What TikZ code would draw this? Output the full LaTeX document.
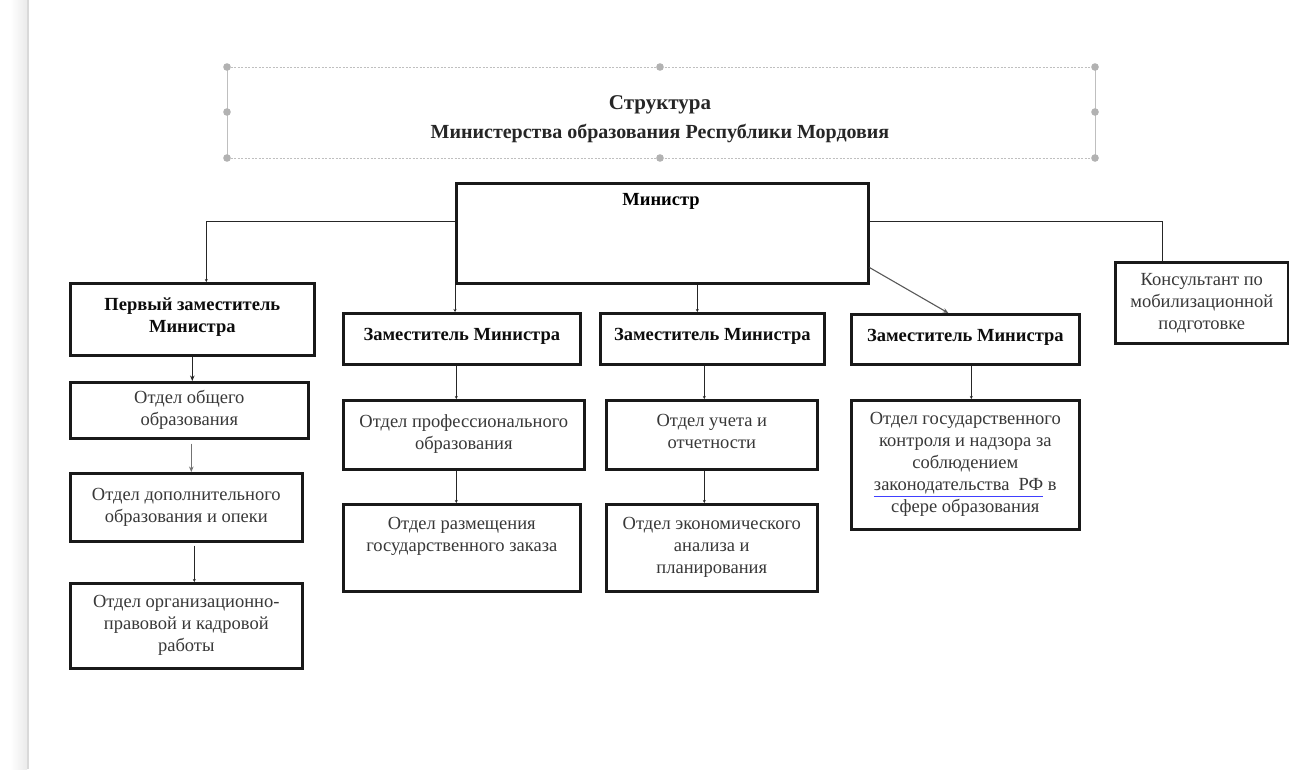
\documentclass[tikz,border=0pt]{standalone}
\usepackage{fontspec}
\setmainfont{Liberation Serif}
\usetikzlibrary{arrows.meta}
\newcommand\deptfnt{\fontsize{18.5}{22}\selectfont}
\newcommand\bossfnt{\fontsize{18.5}{21.5}\selectfont\bfseries}
\begin{document}
\begin{tikzpicture}[x=1pt,y=-1pt,
  box/.style={draw=black!90, line width=2.6pt, inner sep=0pt, align=center, anchor=north west, font=\deptfnt, text=black!78},
  boss/.style={box, font=\bossfnt, text=black!95},
  conn/.style={draw=black!85, line width=0.9pt},
  bigtip/.style={-{Stealth[length=5.5pt,width=4.5pt]}},
  tinytip/.style={-{Stealth[length=3pt,width=3pt]}},
  handle/.style={fill=gray!60, draw=none},
  frameline/.style={draw=gray!50, line width=0.8pt}
]
\useasboundingbox (0,0) rectangle (1289,769);
\fill[white] (0,0) rectangle (1289,769);
% left grey strip
\shade[left color=white, right color=gray!16] (10,0) rectangle (27,769);
\draw[gray!30, line width=1.2pt] (28,0) -- (28,769);

% title frame
\draw[frameline, dash pattern=on 2pt off 1.5pt] (227,67) -- (1095,67);
\draw[frameline, dash pattern=on 2pt off 1.5pt] (227,158) -- (1095,158);
\draw[frameline] (227,67) -- (227,158);
\draw[frameline] (1095,67) -- (1095,158);
\foreach \hx/\hy in {227/67,660/67,1095/67,227/112,1095/112,227/158,660/158,1095/158}
  \fill[handle] (\hx,\hy) circle (3.8pt);
\node[font=\fontsize{21}{23}\selectfont\bfseries, text=black!85, inner sep=0pt] (title1) at (660,105) {Структура};
\node[font=\fontsize{20}{23}\selectfont\bfseries, text=black!85, inner sep=0pt] (title2) at (660,133) {Министерства образования Республики Мордовия};

% boxes
\node[boss, minimum width=412pt, minimum height=100pt] (min) at (455,182) {};
\node[font=\bossfnt, inner sep=0pt] (mintext) at (661,201) {Министр};

\node[boss, minimum width=244pt, minimum height=72pt] (dep1) at (69,282) {Первый заместитель\\Министра\\[-13pt]};
\node[box, minimum width=238pt, minimum height=56pt] (dobsh) at (69,381) {Отдел общего\\образования};
\node[box, minimum width=232pt, minimum height=68pt] (ddop) at (69,472) {Отдел дополнительного\\образования и опеки};
\node[box, minimum width=232pt, minimum height=85pt] (dorg) at (69,582) {Отдел организационно-\\правовой и кадровой\\работы};

\node[boss, minimum width=237pt, minimum height=51pt] (dep2) at (342,312) {Заместитель Министра\\[-13pt]};
\node[box, minimum width=241pt, minimum height=69pt] (dprof) at (342,399) {Отдел профессионального\\образования\\[-16pt]};
\node[box, minimum width=237pt, minimum height=87pt] (drazm) at (342,503) {Отдел размещения\\государственного заказа\\[4pt]\mbox{}};

\node[boss, minimum width=224pt, minimum height=51pt] (dep3) at (599,312) {Заместитель Министра\\[-13pt]};
\node[box, minimum width=211pt, minimum height=69pt] (duch) at (605,399) {Отдел учета и\\отчетности\\[-16pt]};
\node[box, minimum width=211pt, minimum height=87pt] (dekon) at (605,503) {Отдел экономического\\анализа и\\планирования};

\node[boss, minimum width=228pt, minimum height=50pt] (dep4) at (850,313) {Заместитель Министра\\[-13pt]};
\node[box, minimum width=228pt, minimum height=129pt] (dgos) at (850,399) {Отдел государственного\\контроля и надзора за\\соблюдением\\{\color{blue!75}\underline{\textcolor{black!78}{законодательства\ \ РФ}}} в\\сфере образования};

\node[box, minimum width=173pt, minimum height=81pt] (cons) at (1114,261) {Консультант по\\мобилизационной\\подготовке};

% connectors
\draw[conn, tinytip] ([yshift=-39pt]min.north west) -| ([xshift=14pt]dep1.north);
\draw[conn] ([yshift=-39pt]min.north east) -| ([xshift=-39.5pt]cons.north);
\draw[conn, tinytip] (min.south west) -- (min.south west |- dep2.north);
\draw[conn, tinytip] ([xshift=35pt]min.south) -- ([xshift=35pt]min.south |- dep3.north);
\draw[draw=black!65, line width=1.1pt, bigtip] ([yshift=17pt]min.south east) -- ([xshift=-17pt]dep4.north);

\draw[conn, bigtip] (dep1.south) -- (dep1.south |- dobsh.north);
\draw[draw=black!55, line width=0.9pt, bigtip] ([xshift=2pt,yshift=-4pt]dobsh.south) -- ([xshift=2pt]dobsh.south |- ddop.north);
\draw[conn, tinytip] ([xshift=8pt,yshift=-3pt]ddop.south) -- ([xshift=8pt]ddop.south |- dorg.north);

\draw[conn, tinytip] ([xshift=-5.5pt]dep2.south) -- ([xshift=-5.5pt]dep2.south |- dprof.north);
\draw[conn, tinytip] ([xshift=-7.5pt]dprof.south) -- ([xshift=-7.5pt]dprof.south |- drazm.north);
\draw[conn, tinytip] ([xshift=-8pt]dep3.south) -- ([xshift=-8pt]dep3.south |- duch.north);
\draw[conn, tinytip] ([xshift=-7.5pt]duch.south) -- ([xshift=-7.5pt]duch.south |- dekon.north);
\draw[conn, tinytip] ([xshift=6pt]dep4.south) -- ([xshift=6pt]dep4.south |- dgos.north);
\end{tikzpicture}
\end{document}
